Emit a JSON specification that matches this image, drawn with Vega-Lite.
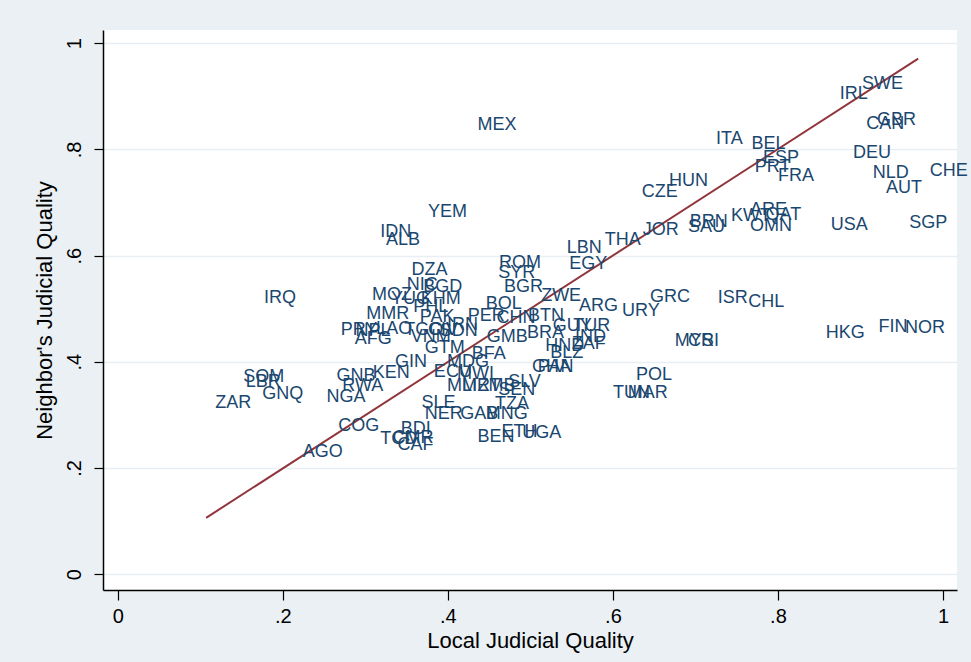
{
  "$schema": "https://vega.github.io/schema/vega-lite/v6.json",
  "width": 854,
  "height": 560,
  "autosize": "none",
  "padding": {"left": 103, "top": 30, "right": 14, "bottom": 72},
  "background": "#EAF0F3",
  "config": {
    "font": "Liberation Sans",
    "view": {"fill": "white", "stroke": null}
  },
  "datasets": {
    "countries": [
      {"c":"SWE","local":0.902,"nbr":0.924},
      {"c":"IRL","local":0.875,"nbr":0.905},
      {"c":"GBR","local":0.920,"nbr":0.856},
      {"c":"CAN","local":0.907,"nbr":0.848},
      {"c":"MEX","local":0.436,"nbr":0.846},
      {"c":"ITA","local":0.725,"nbr":0.820},
      {"c":"BEL","local":0.768,"nbr":0.811},
      {"c":"ESP","local":0.782,"nbr":0.784},
      {"c":"PRT","local":0.772,"nbr":0.767},
      {"c":"DEU","local":0.891,"nbr":0.794},
      {"c":"FRA","local":0.800,"nbr":0.750},
      {"c":"NLD","local":0.915,"nbr":0.756},
      {"c":"CHE","local":0.984,"nbr":0.760},
      {"c":"AUT","local":0.931,"nbr":0.728},
      {"c":"HUN","local":0.668,"nbr":0.741},
      {"c":"CZE","local":0.635,"nbr":0.720},
      {"c":"YEM","local":0.376,"nbr":0.682},
      {"c":"ARE","local":0.766,"nbr":0.686},
      {"c":"KWT","local":0.743,"nbr":0.675},
      {"c":"QAT","local":0.785,"nbr":0.677},
      {"c":"OMN","local":0.766,"nbr":0.656},
      {"c":"BRN","local":0.693,"nbr":0.664},
      {"c":"SAU","local":0.691,"nbr":0.654},
      {"c":"USA","local":0.864,"nbr":0.658},
      {"c":"SGP","local":0.959,"nbr":0.662},
      {"c":"JOR","local":0.636,"nbr":0.648},
      {"c":"IDN","local":0.318,"nbr":0.645},
      {"c":"ALB","local":0.325,"nbr":0.630},
      {"c":"THA","local":0.590,"nbr":0.630},
      {"c":"LBN","local":0.544,"nbr":0.615},
      {"c":"ROM","local":0.462,"nbr":0.586},
      {"c":"EGY","local":0.547,"nbr":0.584},
      {"c":"SYR","local":0.461,"nbr":0.567},
      {"c":"DZA","local":0.356,"nbr":0.573},
      {"c":"NIC","local":0.350,"nbr":0.545},
      {"c":"BGD","local":0.370,"nbr":0.541},
      {"c":"BGR","local":0.468,"nbr":0.541},
      {"c":"MOZ","local":0.308,"nbr":0.526},
      {"c":"YUG","local":0.331,"nbr":0.518},
      {"c":"KHM","local":0.367,"nbr":0.518},
      {"c":"IRQ","local":0.177,"nbr":0.520},
      {"c":"ZWE","local":0.513,"nbr":0.524},
      {"c":"GRC","local":0.645,"nbr":0.522},
      {"c":"ISR","local":0.727,"nbr":0.520},
      {"c":"CHL","local":0.764,"nbr":0.513},
      {"c":"ARG","local":0.559,"nbr":0.505},
      {"c":"BOL","local":0.446,"nbr":0.509},
      {"c":"URY","local":0.611,"nbr":0.496},
      {"c":"PHL","local":0.358,"nbr":0.503},
      {"c":"MMR","local":0.301,"nbr":0.490},
      {"c":"PAK","local":0.366,"nbr":0.484},
      {"c":"PER","local":0.424,"nbr":0.486},
      {"c":"CHN","local":0.459,"nbr":0.483},
      {"c":"BTN","local":0.497,"nbr":0.486},
      {"c":"IRN","local":0.399,"nbr":0.469},
      {"c":"PRY","local":0.270,"nbr":0.460},
      {"c":"NPL","local":0.288,"nbr":0.458},
      {"c":"LAO","local":0.313,"nbr":0.462},
      {"c":"TGO","local":0.347,"nbr":0.460},
      {"c":"CIV","local":0.376,"nbr":0.460},
      {"c":"SDN","local":0.390,"nbr":0.458},
      {"c":"AFG","local":0.287,"nbr":0.443},
      {"c":"VNM","local":0.355,"nbr":0.447},
      {"c":"GMB","local":0.447,"nbr":0.447},
      {"c":"BRA","local":0.496,"nbr":0.454},
      {"c":"GUY","local":0.527,"nbr":0.467},
      {"c":"TUR","local":0.552,"nbr":0.467},
      {"c":"IND","local":0.554,"nbr":0.447},
      {"c":"ZAF","local":0.550,"nbr":0.434},
      {"c":"HND","local":0.518,"nbr":0.430},
      {"c":"BLZ","local":0.524,"nbr":0.417},
      {"c":"GTM","local":0.372,"nbr":0.426},
      {"c":"BFA","local":0.429,"nbr":0.415},
      {"c":"GHA","local":0.502,"nbr":0.390},
      {"c":"PAN","local":0.509,"nbr":0.390},
      {"c":"GIN","local":0.336,"nbr":0.400},
      {"c":"MDG","local":0.399,"nbr":0.400},
      {"c":"KEN","local":0.309,"nbr":0.379},
      {"c":"ECU","local":0.383,"nbr":0.381},
      {"c":"MWI","local":0.411,"nbr":0.377},
      {"c":"GNB","local":0.265,"nbr":0.373},
      {"c":"SOM","local":0.152,"nbr":0.371},
      {"c":"LBR","local":0.155,"nbr":0.362},
      {"c":"RWA","local":0.272,"nbr":0.354},
      {"c":"MLI","local":0.399,"nbr":0.354},
      {"c":"MRT","local":0.417,"nbr":0.354},
      {"c":"ZMB","local":0.436,"nbr":0.354},
      {"c":"SLV","local":0.473,"nbr":0.362},
      {"c":"SEN","local":0.461,"nbr":0.347},
      {"c":"GNQ","local":0.175,"nbr":0.339},
      {"c":"NGA","local":0.253,"nbr":0.334},
      {"c":"TUN","local":0.600,"nbr":0.341},
      {"c":"MAR","local":0.618,"nbr":0.341},
      {"c":"POL","local":0.628,"nbr":0.375},
      {"c":"MYS","local":0.675,"nbr":0.439},
      {"c":"CRI","local":0.691,"nbr":0.439},
      {"c":"HKG","local":0.858,"nbr":0.454},
      {"c":"FIN","local":0.922,"nbr":0.466},
      {"c":"NOR","local":0.954,"nbr":0.464},
      {"c":"ZAR","local":0.118,"nbr":0.322},
      {"c":"SLE","local":0.368,"nbr":0.322},
      {"c":"TZA","local":0.457,"nbr":0.320},
      {"c":"NER","local":0.372,"nbr":0.302},
      {"c":"GAB","local":0.415,"nbr":0.302},
      {"c":"MNG","local":0.446,"nbr":0.302},
      {"c":"COG","local":0.267,"nbr":0.279},
      {"c":"BDI","local":0.343,"nbr":0.273},
      {"c":"ETH","local":0.465,"nbr":0.268},
      {"c":"UGA","local":0.490,"nbr":0.266},
      {"c":"BEN","local":0.436,"nbr":0.258},
      {"c":"TCD","local":0.318,"nbr":0.254},
      {"c":"CMR","local":0.333,"nbr":0.256},
      {"c":"CAF","local":0.339,"nbr":0.243},
      {"c":"AGO","local":0.224,"nbr":0.230}
    ],
    "fit": [
      {"local":0.107,"nbr":0.106},
      {"local":0.970,"nbr":0.971}
    ]
  },
  "layer": [
    {
      "data": {"name": "fit"},
      "mark": {"type": "line", "color": "#90353B", "strokeWidth": 2},
      "encoding": {
        "x": {
          "field": "local", "type": "quantitative",
          "scale": {"domain": [-0.018, 1.017], "nice": false, "zero": false},
          "axis": {
            "title": "Local Judicial Quality",
            "values": [0, 0.2, 0.4, 0.6, 0.8, 1],
            "labelExpr": "datum.value == 0 ? '0' : datum.value == 1 ? '1' : replace(format(datum.value, '.1f'), '0.', '.')",
            "grid": false,
            "domainColor": "black", "domainWidth": 1.5,
            "tickColor": "black", "tickSize": 10, "tickWidth": 1.2,
            "labelFontSize": 20, "labelColor": "black", "labelPadding": 6,
            "titleFontSize": 22, "titleFontWeight": "normal", "titleColor": "black", "titlePadding": 4
          }
        },
        "y": {
          "field": "nbr", "type": "quantitative",
          "scale": {"domain": [-0.030, 1.025], "nice": false, "zero": false},
          "axis": {
            "title": "Neighbor's Judicial Quality",
            "values": [0, 0.2, 0.4, 0.6, 0.8, 1],
            "labelExpr": "datum.value == 0 ? '0' : datum.value == 1 ? '1' : replace(format(datum.value, '.1f'), '0.', '.')",
            "grid": true, "gridColor": "#E8EEF1", "gridWidth": 1.5,
            "domainColor": "black", "domainWidth": 1.5,
            "tickColor": "black", "tickSize": 9, "tickWidth": 1.2,
            "labelAngle": -90, "labelAlign": "center", "labelBaseline": "bottom",
            "labelFontSize": 20, "labelColor": "black", "labelPadding": 10,
            "titleFontSize": 22, "titleFontWeight": "normal", "titleColor": "black", "titlePadding": 8
          }
        }
      }
    },
    {
      "data": {"name": "countries"},
      "mark": {"type": "text", "align": "left", "baseline": "middle", "fontSize": 18, "color": "#1A476F", "font": "Liberation Sans"},
      "encoding": {
        "x": {"field": "local", "type": "quantitative"},
        "y": {"field": "nbr", "type": "quantitative"},
        "text": {"field": "c"}
      }
    }
  ]
}
